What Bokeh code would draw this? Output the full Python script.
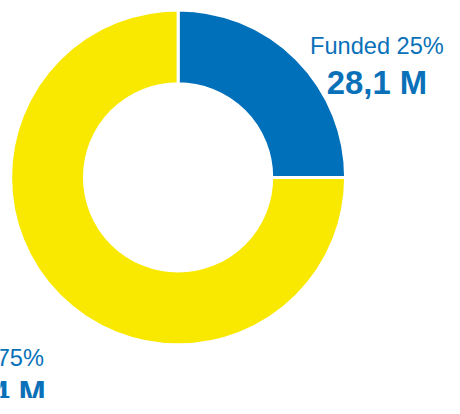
import math
from bokeh.plotting import figure
from bokeh.models import Range1d, ColumnDataSource
from bokeh.core.properties import value
from bokeh.embed import file_html
from bokeh.resources import INLINE

# data
categories = ["Funded", "Unfunded"]
percents = [25, 75]
amounts = ["28,1 M", "84,4 M"]
colors = ["#0070ba", "#f9e800"]

W, H = 444, 398
p = figure(width=W, height=H, output_backend="svg", toolbar_location=None,
           x_range=Range1d(0, 460), y_range=Range1d(0, 414), min_border=0)
p.axis.visible = False
p.grid.visible = False
p.outline_line_color = None
p.background_fill_color = "white"
p.border_fill_color = "white"

cx, cy = 184, 230
total = sum(percents)
starts, ends = [], []
a = math.pi / 2
for v in percents:
    starts.append(a)
    a -= 2 * math.pi * v / total
    ends.append(a)

src = ColumnDataSource(dict(start=starts, end=ends, color=colors))
p.annular_wedge(x=cx, y=cy, inner_radius=97, outer_radius=173.5,
                start_angle="start", end_angle="end", direction="clock",
                fill_color="color", line_color="white", line_width=3, source=src)

text_color = "#0a71b9"
font = value("Liberation Sans")
# Funded labels
p.text(x=[390], y=[367], text=[f"{categories[0]} {percents[0]}%"], text_align="center",
       text_baseline="alphabetic", text_font=font, text_font_size="23.6px", text_color=text_color)
p.text(x=[390], y=[329], text=[amounts[0]], text_align="center",
       text_baseline="alphabetic", text_font=font, text_font_size="32.8px",
       text_font_style="bold", text_color=text_color)
# Unfunded labels (partly off-canvas on the left, as in the reference)
p.text(x=[45], y=[42], text=[f"{categories[1]} {percents[1]}%"], text_align="right",
       text_baseline="alphabetic", text_font=font, text_font_size="23.6px", text_color=text_color)
p.text(x=[47], y=[6], text=[amounts[1]], text_align="right",
       text_baseline="alphabetic", text_font=font, text_font_size="32.8px",
       text_font_style="bold", text_color=text_color)

open("out.html", "w").write(file_html(p, INLINE))
